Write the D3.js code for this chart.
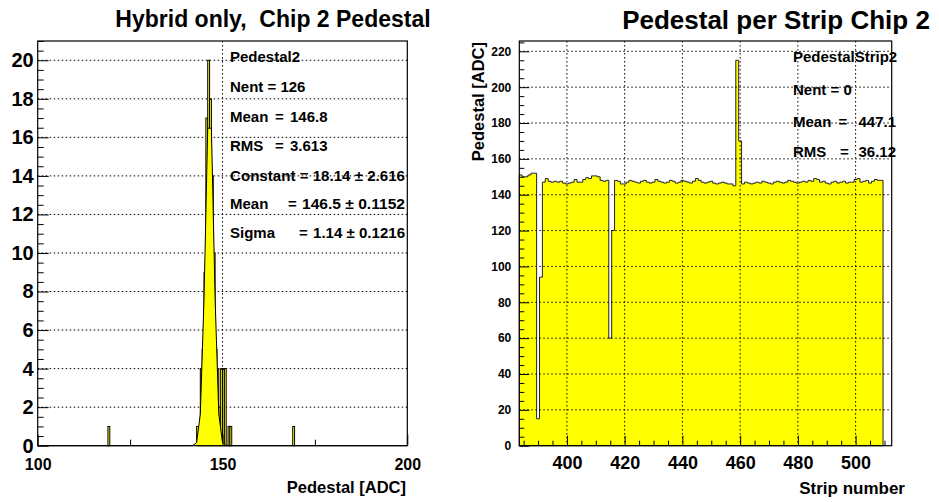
<!DOCTYPE html>
<html><head><meta charset="utf-8">
<script src="https://cdn.jsdelivr.net/npm/d3@7"></script>
<style>
html,body{margin:0;padding:0;background:#fff;}
svg{display:block;font-family:"Liberation Sans",Arial,Helvetica,sans-serif;}
</style></head><body>
<svg id="c" width="939" height="502"></svg>
<script>
// ---- Chip 2 pedestal distribution, 0.5 ADC bins: lower bin edge and entries ----
const pedBinLow = [119.0, 143.0, 143.5, 144.0, 144.5, 145.0, 145.5, 146.0, 146.5, 147.0,
                   147.5, 148.0, 148.5, 149.0, 149.5, 150.0, 150.5, 151.5, 152.0, 169.0];
const pedCounts = [1, 1, 1, 4, 5, 9, 17, 20, 18, 14,
                   10, 5, 4, 2, 4, 4, 4, 1, 1, 1];
const pedBinWidth = 0.5;
// Gaussian fit result
const fitConstant = 18.14, fitMean = 146.5, fitSigma = 1.14;
const pedXTicks = [100, 150, 200];
const pedXMinor = [125, 175];
const pedYTicks = [0, 2, 4, 6, 8, 10, 12, 14, 16, 18, 20];
const pedStatsName = "Pedestal2";
const pedStatsSimple = [["Nent = 126", null, null], ["Mean", "=", "146.8"], ["RMS", "=", "3.613"]];
const pedStatsFit = [["Constant", "=", "18.14 \u00b1 2.616"], ["Mean", "=", "146.5 \u00b1 0.1152"], ["Sigma", "=", "1.14 \u00b1 0.1216"]];

// ---- Pedestal per strip, chip 2 (strips 384..509) ----
const stripFirst = 384;
const stripPedestals = [
  151, 150, 150, 151, 152, 152,
  15, 94,
  147, 149, 147.5, 147, 147.5, 147, 147.5, 146.5,
  146, 146.5, 147, 148.5, 147, 147, 148.5, 149.5, 149, 150.5,
  150.5, 150, 148, 147.5, 148, 60, 120, 148, 147.5, 146,
  146, 147, 148, 147.5, 147, 146.5, 147.5, 148, 147, 146.5,
  147, 148.5, 147.5, 147, 146.5, 147, 148, 147.5, 146.5, 147,
  148, 147.5, 147, 146.5, 147.5, 149, 148, 147, 146.5, 147,
  147.5, 146.5, 146, 146.5, 147, 146.5, 146, 146, 145, 215,
  170, 146, 147, 146.5, 146, 146.5, 147, 146.5, 147.5, 147,
  146.5, 146, 147, 147.5, 147, 146.5, 147, 148, 147.5, 147,
  146.5, 147, 147.5, 147, 148, 147.5, 149, 148.5, 147, 147.5,
  146.5, 146, 147, 147.5, 146.5, 147, 147.5, 146.5, 147, 147,
  148.5, 149, 147, 147.5, 148, 146.5, 147.5, 148.5, 148, 148
];
const stripXTicks = [400, 420, 440, 460, 480, 500];
const stripYTicks = [0, 20, 40, 60, 80, 100, 120, 140, 160, 180, 200, 220];
const stripStatsName = "PedestalStrip2";
const stripStats = [["Nent = 0", null, null], ["Mean", "=", "447.1"], ["RMS", "=", "36.12"]];

const svg = d3.select("#c");
const FONT = '"Liberation Sans",Arial,Helvetica,sans-serif';
const YELLOW = "#ffff00";

function txt(g, x, y, s, size, anchor) {
  return g.append("text").attr("x", x).attr("y", y).attr("font-size", size)
    .attr("font-weight", "bold").attr("text-anchor", anchor || "start")
    .attr("fill", "#000").attr("xml:space", "preserve").text(s);
}
function styleAxis(sel, size) {
  sel.attr("font-size", null).attr("font-family", null);
  sel.select(".domain").remove();
  sel.selectAll("line").attr("stroke", "#000").attr("stroke-width", 1);
  sel.selectAll("text").attr("font-size", size).attr("font-weight", "bold")
    .attr("fill", "#000").attr("font-family", FONT);
}
function dotted(g, x1, y1, x2, y2) {
  g.append("line").attr("x1", x1).attr("y1", y1).attr("x2", x2).attr("y2", y2)
    .attr("stroke", "#000").attr("stroke-width", 1).attr("stroke-dasharray", "1.5,2.5");
}

// ================= Left pad: pedestal distribution =================
{
  const X0 = 37.7, X1 = 407.3, Y0 = 41, Y1 = 445.7;
  const x = d3.scaleLinear().domain([100, 200]).range([X0, X1]);
  const y = d3.scaleLinear().domain([0, 21]).range([Y1, Y0]);
  const g = svg.append("g");

  txt(g, 273, 27, "Hybrid only,  Chip 2 Pedestal", 23, "middle");

  // grid
  const grid = g.append("g");
  pedYTicks.filter(v => v > 0).forEach(v => dotted(grid, X0, y(v), X1, y(v)));
  pedXTicks.filter(v => v > 100 && v < 200).forEach(v => dotted(grid, x(v), Y0, x(v), Y1));

  // histogram bins
  g.append("g").selectAll("rect").data(pedBinLow.map((b, i) => ({b, c: pedCounts[i]})))
    .join("rect")
    .attr("x", d => x(d.b)).attr("width", d => x(d.b + pedBinWidth) - x(d.b))
    .attr("y", d => y(d.c)).attr("height", d => y(0) - y(d.c))
    .attr("fill", YELLOW).attr("stroke", "#000").attr("stroke-width", 1);

  // gaussian fit, sampled once per ADC unit across the axis range
  const fx = d3.range(100, 201, 1);
  const gauss = v => fitConstant * Math.exp(-0.5 * Math.pow((v - fitMean) / fitSigma, 2));
  const area = d3.area().x(d => x(d)).y0(y(0)).y1(d => y(gauss(d)));
  const line = d3.line().x(d => x(d)).y(d => y(gauss(d)));
  g.append("path").datum(fx).attr("d", area).attr("fill", YELLOW);
  g.append("path").datum(fx).attr("d", line).attr("fill", "none").attr("stroke", "#000").attr("stroke-width", 1);

  // frame
  g.append("rect").attr("x", X0).attr("y", Y0).attr("width", X1 - X0).attr("height", Y1 - Y0)
    .attr("fill", "none").attr("stroke", "#000").attr("stroke-width", 1.2);

  // axes (ticks pointing inward)
  const minorY = d3.range(0, 21.01, 0.5).filter(v => v % 2 !== 0);
  g.append("g").attr("transform", `translate(${X0},0)`)
    .call(d3.axisLeft(y).tickValues(minorY).tickSize(-6).tickFormat(""))
    .call(s => styleAxis(s, 0));
  g.append("g").attr("transform", `translate(${X0},0)`)
    .call(d3.axisLeft(y).tickValues(pedYTicks).tickSize(-11).tickPadding(4).tickFormat(d3.format("d")))
    .call(s => styleAxis(s, 20));
  g.append("g").attr("transform", `translate(0,${Y1})`)
    .call(d3.axisBottom(x).tickValues(pedXMinor).tickSize(-6).tickFormat(""))
    .call(s => styleAxis(s, 0));
  g.append("g").attr("transform", `translate(0,${Y1})`)
    .call(d3.axisBottom(x).tickValues(pedXTicks).tickSize(-11).tickPadding(13).tickFormat(d3.format("d")))
    .call(s => styleAxis(s, 16));

  txt(g, 406, 493, "Pedestal [ADC]", 16.5, "end");

  // statistics
  txt(g, 230, 62, pedStatsName, 15);
  const base = [91.5, 121.5, 151];
  pedStatsSimple.forEach((r, i) => {
    txt(g, 230, base[i], r[0], 15);
    if (r[1]) { txt(g, 275, base[i], r[1], 15); txt(g, 290, base[i], r[2], 15); }
  });
  // fit parameters: name, "=" and value ± error ending at the frame
  const fitBase = [180.5, 209, 238];
  txt(g, 230, fitBase[0], pedStatsFit[0].join(" "), 15)
    .attr("textLength", 175).attr("lengthAdjust", "spacingAndGlyphs");
  const eqX = [null, 288, 299];
  const valX = [null, 302, 313];
  for (let i = 1; i < 3; i++) {
    const r = pedStatsFit[i];
    txt(g, 230, fitBase[i], r[0], 15);
    txt(g, eqX[i], fitBase[i], r[1], 15);
    txt(g, valX[i], fitBase[i], r[2], 15)
      .attr("textLength", 405 - valX[i]).attr("lengthAdjust", "spacingAndGlyphs");
  }
}

// ================= Right pad: pedestal per strip =================
{
  const X0 = 519.3, X1 = 891.7, Y0 = 41, Y1 = 445.7;
  const x = d3.scaleLinear().domain([383.5, 512.5]).range([X0, X1]);
  const y = d3.scaleLinear().domain([0, 225.75]).range([Y1, Y0]);
  const g = svg.append("g");

  txt(g, 776, 29, "Pedestal per Strip Chip 2", 26, "middle");

  // histogram as filled step outline
  const strips = stripPedestals.map((v, i) => ({s: stripFirst + i, v}));
  const pts = [[x(stripFirst - 0.5), y(0)]];
  strips.forEach(d => { pts.push([x(d.s - 0.5), y(d.v)]); pts.push([x(d.s + 0.5), y(d.v)]); });
  pts.push([x(stripFirst + strips.length - 0.5), y(0)]);
  g.append("path").attr("d", d3.line()(pts) + "Z")
    .attr("fill", YELLOW).attr("stroke", "#222").attr("stroke-width", 1);

  // grid over the histogram
  const grid = g.append("g");
  stripYTicks.filter(v => v > 0).forEach(v => dotted(grid, X0, y(v), X1, y(v)));
  stripXTicks.forEach(v => dotted(grid, x(v), Y0, x(v), Y1));

  // frame
  g.append("rect").attr("x", X0).attr("y", Y0).attr("width", X1 - X0).attr("height", Y1 - Y0)
    .attr("fill", "none").attr("stroke", "#000").attr("stroke-width", 1.2);

  const minorY = d3.range(0, 226, 5).filter(v => v % 20 !== 0);
  g.append("g").attr("transform", `translate(${X0},0)`)
    .call(d3.axisLeft(y).tickValues(minorY).tickSize(-5).tickFormat(""))
    .call(s => styleAxis(s, 0));
  g.append("g").attr("transform", `translate(${X0},0)`)
    .call(d3.axisLeft(y).tickValues(stripYTicks).tickSize(-10).tickPadding(8).tickFormat(d3.format("d")))
    .call(s => styleAxis(s, 12));
  const minorX = d3.range(385, 513, 5).filter(v => v % 20 !== 0);
  g.append("g").attr("transform", `translate(0,${Y1})`)
    .call(d3.axisBottom(x).tickValues(minorX).tickSize(-5).tickFormat(""))
    .call(s => styleAxis(s, 0));
  g.append("g").attr("transform", `translate(0,${Y1})`)
    .call(d3.axisBottom(x).tickValues(stripXTicks).tickSize(-10).tickPadding(11).tickFormat(d3.format("d")))
    .call(s => styleAxis(s, 18));

  txt(g, 905, 494, "Strip number", 17, "end");
  txt(g, 0, 0, "Pedestal [ADC]", 16.5, "end")
    .attr("transform", "translate(484,42) rotate(-90)");

  // statistics
  txt(g, 793, 62, stripStatsName, 15);
  const base = [95, 126.5, 156.5];
  const eqX = [null, 838.5, 840];
  stripStats.forEach((r, i) => {
    txt(g, 793, base[i], r[0], 15);
    if (r[1]) { txt(g, eqX[i], base[i], r[1], 15); txt(g, 896, base[i], r[2], 15, "end"); }
  });
}
</script>
</body></html>
